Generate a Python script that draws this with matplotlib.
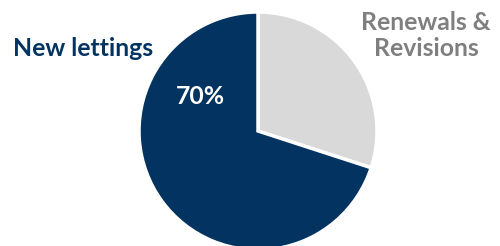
import matplotlib.pyplot as plt

# slice data
labels = ['New lettings', 'Renewals & Revisions']
shares = [70, 30]
colors = ['#023361', '#d9d9d9']

fig = plt.figure(figsize=(5.0, 2.46), dpi=100)
ax = fig.add_axes([0, 0, 1, 1])

# pie starts at 12 o'clock, going clockwise: grey slice first
ax.pie(shares[::-1], colors=colors[::-1], startangle=90, counterclock=False,
       radius=1.0, center=(0, 0),
       wedgeprops=dict(edgecolor='white', linewidth=2.5))

# place the pie: 1 unit = 119 px, centre at (258, 131) from top-left
r = 119.0
ax.set_xlim(-258 / r, (500 - 258) / r)
ax.set_ylim(-(246 - 131) / r, 131 / r)
ax.set_aspect('equal')
ax.axis('off')

font = 'Lato'
style = dict(fontsize=17.8, fontweight='bold', family=font)
fig.text(13 / 500, 1 - 48 / 246, labels[0], ha='left', va='center',
         color='#023361', **style)
# grey label on two centred lines
fig.text(426 / 500, 1 - 22 / 246, 'Renewals &', ha='center', va='center',
         color='#7f7f7f', **style)
fig.text(426 / 500, 1 - 48 / 246, 'Revisions', ha='center', va='center',
         color='#7f7f7f', **style)
fig.text(200 / 500, 1 - 96 / 246, f'{shares[0]}%', ha='center', va='center',
         color='white', **style)

fig.savefig('out.png', dpi=100)
